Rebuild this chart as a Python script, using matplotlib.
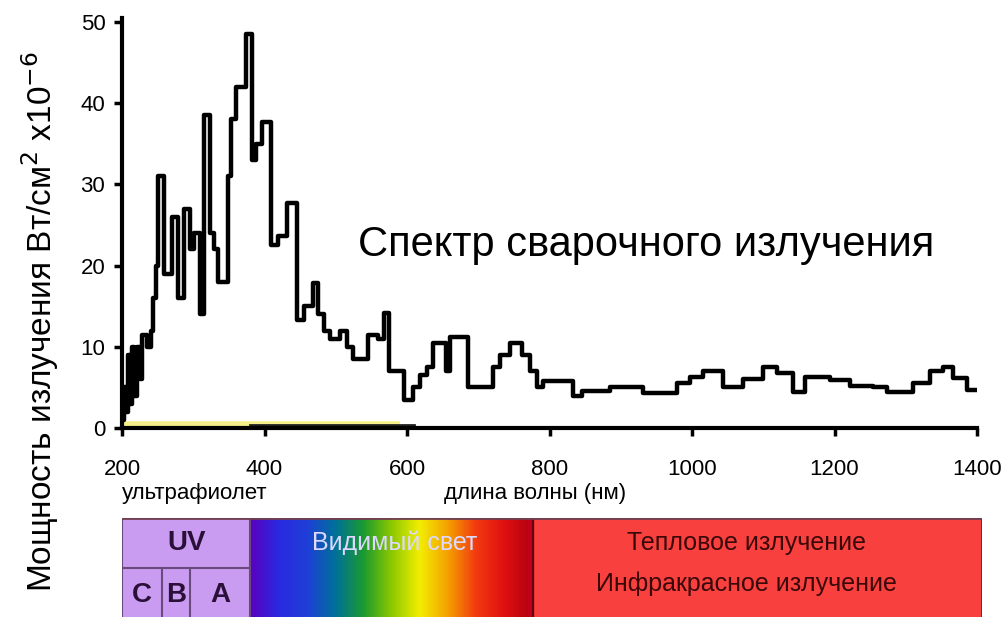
import numpy as np
import matplotlib
matplotlib.use("Agg")
import matplotlib.pyplot as plt
from matplotlib.colors import LinearSegmentedColormap

plt.rcParams['font.family'] = ['Liberation Sans', 'DejaVu Sans']

# welding arc spectrum, step edges (nm) and power (W/cm2 x1e-6)
wavelength = [200, 203, 206, 208, 211, 214, 217, 221, 225, 228, 235, 241, 244, 248,
              251, 259, 270, 279, 287, 295, 301, 309, 315, 324, 329, 335, 349, 353,
              360, 374, 382, 388, 396, 409, 419, 432, 446, 455, 468, 475, 484, 492,
              506, 516, 524, 545, 559, 568, 575, 596, 608, 618, 628, 636, 655, 660,
              686, 721, 731, 745, 761, 773, 782, 791, 833, 846, 885, 931, 979, 997,
              1015, 1044, 1072, 1100, 1119, 1142, 1159, 1194, 1222, 1254, 1274, 1310,
              1334, 1352, 1366, 1386, 1400]
power = [1, 5, 2, 9, 3, 10, 4, 10, 6, 11.5, 10, 12, 16, 20,
         31, 19, 26, 16, 27, 22, 24, 14, 38.5, 24, 22, 18, 31, 38,
         42, 48.5, 33, 35, 37.7, 22.5, 23.7, 27.7, 13.3, 15, 17.8, 14, 12, 11,
         12, 10, 8.5, 11.5, 11, 14.2, 7, 3.4, 5, 6.5, 7.5, 10.5, 7, 11.2,
         5, 7.5, 9, 10.5, 9, 7, 5, 5.8, 4, 4.6, 5, 4.3, 5.5, 6.3,
         7, 5, 6, 7.5, 6.8, 4.4, 6.3, 5.9, 5.2, 5, 4.4, 5.5,
         7, 7.5, 6.2, 4.7, 4.7]

y_ticks = [0, 10, 20, 30, 40, 50]
x_ticks = [200, 400, 600, 800, 1000, 1200, 1400]

# spectrum band regions (nm)
uv_range = (200, 380)
uv_sub = [("C", 200, 256), ("B", 256, 295), ("A", 295, 380)]
visible_range = (380, 777)
ir_range = (777, 1407)
visible_colors = ["#5a00c0", "#2a2ae0", "#1f3ed8", "#00709a", "#1a9a30", "#8cc800",
                  "#f2ee00", "#f4a000", "#f23a10", "#e01010", "#b00010"]

fig = plt.figure(figsize=(10.02, 6.17), dpi=100)
W, H = 1002, 617

ax = fig.add_axes([122 / W, 1 - 428 / H, (977 - 122) / W, (428 - 18) / H])
ax.plot([200, 590], [0.45, 0.45], color="#f4f08a", lw=4, zorder=1, solid_capstyle="butt")
ax.plot([380, 610], [0.35, 0.35], color="#202020", lw=2, zorder=2)
ax.step(wavelength, power, where="post", color="black", lw=3.2, zorder=3)
ax.set_xlim(200, 1400)
ax.set_ylim(0, 50.5)
ax.set_xticks(x_ticks)
ax.set_yticks(y_ticks)
ax.spines["top"].set_visible(False)
ax.spines["right"].set_visible(False)
ax.spines["left"].set_linewidth(3)
ax.spines["bottom"].set_linewidth(3)
ax.tick_params(axis="both", direction="out", length=6, width=2.5, labelsize=16, colors="black")
ax.tick_params(axis="x", pad=16)
ax.tick_params(axis="y", pad=6)
ax.patch.set_alpha(0)

ax.text(0.613, 0.446, "Спектр сварочного излучения", transform=ax.transAxes,
        ha="center", va="center", fontsize=30)

fig.text(40 / W, 1 - 322 / H, "Мощность излучения Вт/см$^2$ x10$^{-6}$", rotation=90,
         ha="center", va="center", fontsize=24)
fig.text(122 / W, 1 - 494 / H, "ультрафиолет", ha="left", va="center", fontsize=16)
fig.text(535 / W, 1 - 494 / H, "длина волны (нм)", ha="center", va="center", fontsize=16)

# colour band below the chart
bx = fig.add_axes([122 / W, 0, (982 - 122) / W, (617 - 518) / H])
bx.set_xlim(200, 1407)
bx.set_ylim(0, 1)
bx.axis("off")
bx.axvspan(*uv_range, color="#c99cf2", zorder=0)
cmap = LinearSegmentedColormap.from_list("vis", visible_colors)
grad = np.linspace(0, 1, 256).reshape(1, -1)
bx.imshow(grad, cmap=cmap, aspect="auto", extent=[visible_range[0], visible_range[1], 0, 1], zorder=1)
bx.axvspan(*ir_range, color="#f8413f", zorder=0)
bx.axvspan(visible_range[1] - 8, visible_range[1], color="#c00018", zorder=2)

line_kw = dict(color="#6a4a7a", lw=1.5, zorder=3)
bx.plot([uv_range[0], ir_range[1]], [1, 1], color="#704050", lw=2, zorder=4)
bx.plot([uv_range[0], uv_range[0]], [0, 1], **line_kw)
bx.plot([uv_range[0], uv_range[1]], [0.5, 0.5], **line_kw)
bx.plot([uv_range[1], uv_range[1]], [0, 1], **line_kw)
for name, a, b in uv_sub:
    if a > uv_range[0]:
        bx.plot([a, a], [0, 0.5], **line_kw)
    bx.text((a + b) / 2, 0.22, name, ha="center", va="center", fontsize=20,
            fontweight="bold", color="#2a1038")
bx.plot([ir_range[1], ir_range[1]], [0, 1], color="#703030", lw=1.5, zorder=3)
bx.plot([visible_range[1], visible_range[1]], [0, 1], color="#600010", lw=1.5, zorder=3)

bx.text(sum(uv_range) / 2, 0.75, "UV", ha="center", va="center", fontsize=20,
        fontweight="bold", color="#2a1038")
bx.text(583, 0.75, "Видимый свет", ha="center", va="center", fontsize=18,
        color="#dcd8ff", zorder=5)
bx.text(1076, 0.75, "Тепловое излучение", ha="center", va="center", fontsize=18,
        color="#3a0808", zorder=5)
bx.text(1076, 0.34, "Инфракрасное излучение", ha="center", va="center", fontsize=18,
        color="#3a0808", zorder=5)

fig.savefig("out.png", dpi=100)
